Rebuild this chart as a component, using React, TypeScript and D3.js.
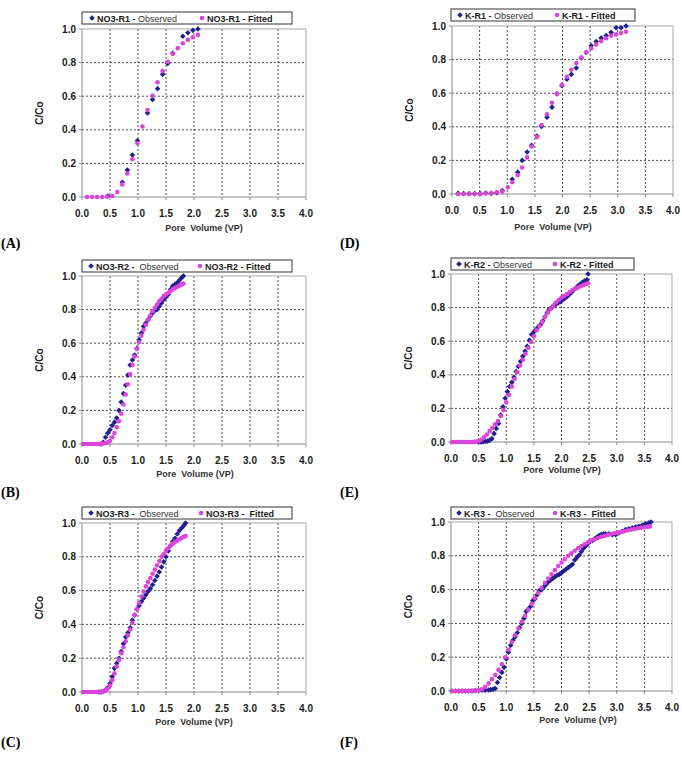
import React from 'react';
import * as d3 from 'd3';

type Pt = [number, number];

// axis ticks shared by all six panels
const xTicks = [0, 0.5, 1, 1.5, 2, 2.5, 3, 3.5, 4];
const yTicks = [0, 0.2, 0.4, 0.6, 0.8, 1.0];
const xTickLabels = ['0.0', '0.5', '1.0', '1.5', '2.0', '2.5', '3.0', '3.5', '4.0'];
const yTickLabels = ['0.0', '0.2', '0.4', '0.6', '0.8', '1.0'];

// NO3 column R1
const no3R1Observed: Pt[] = [
  [0.46, 0.006], [0.72, 0.088], [0.81, 0.16], [0.9, 0.25], [0.99, 0.335], [1.17, 0.5],
  [1.26, 0.58], [1.35, 0.645], [1.44, 0.73], [1.53, 0.795], [1.62, 0.855], [1.8, 0.957],
  [1.89, 0.978], [1.98, 0.992], [2.07, 1.0],
];
const no3R1Fitted: Pt[] = [
  [0.09, 0], [0.18, 0], [0.27, 0], [0.36, 0], [0.45, 0.002], [0.54, 0.006], [0.63, 0.03],
  [0.72, 0.075], [0.81, 0.14], [0.9, 0.225], [0.99, 0.32], [1.08, 0.42], [1.17, 0.518],
  [1.26, 0.602], [1.35, 0.683], [1.44, 0.75], [1.53, 0.805], [1.62, 0.853], [1.71, 0.886],
  [1.8, 0.915], [1.89, 0.935], [1.98, 0.951], [2.07, 0.965],
];

// NO3 column R2
const no3R2Observed: Pt[] = [
  [0.34, 0], [0.38, 0.01], [0.42, 0.04], [0.46, 0.065], [0.5, 0.085], [0.54, 0.11], [0.58, 0.13],
  [0.62, 0.155], [0.66, 0.2], [0.7, 0.25], [0.74, 0.3], [0.78, 0.35], [0.82, 0.41], [0.86, 0.47],
  [0.9, 0.5], [0.94, 0.53], [0.98, 0.57], [1.02, 0.62], [1.06, 0.66], [1.1, 0.7], [1.14, 0.72],
  [1.18, 0.74], [1.22, 0.76], [1.26, 0.78], [1.3, 0.795], [1.34, 0.8], [1.38, 0.82], [1.42, 0.84],
  [1.46, 0.86], [1.5, 0.875], [1.54, 0.89], [1.58, 0.92], [1.62, 0.94], [1.66, 0.95], [1.7, 0.96],
  [1.74, 0.975], [1.78, 0.99], [1.81, 1.0],
];
const no3R2Fitted: Pt[] = [
  [0.02, 0], [0.06, 0], [0.1, 0], [0.14, 0], [0.18, 0], [0.22, 0], [0.26, 0], [0.3, 0],
  [0.34, 0.001], [0.38, 0.003], [0.42, 0.006], [0.46, 0.01], [0.5, 0.018], [0.54, 0.04],
  [0.58, 0.065], [0.62, 0.1], [0.66, 0.135], [0.7, 0.18], [0.74, 0.235], [0.78, 0.295],
  [0.82, 0.355], [0.86, 0.415], [0.9, 0.47], [0.94, 0.52], [0.98, 0.565], [1.02, 0.605],
  [1.06, 0.645], [1.1, 0.68], [1.14, 0.71], [1.18, 0.74], [1.22, 0.765], [1.26, 0.79],
  [1.3, 0.81], [1.34, 0.83], [1.38, 0.85], [1.42, 0.865], [1.46, 0.88], [1.5, 0.89],
  [1.54, 0.9], [1.58, 0.91], [1.62, 0.92], [1.66, 0.928], [1.7, 0.936], [1.74, 0.943],
  [1.78, 0.95], [1.81, 0.955],
];

// NO3 column R3
const no3R3Observed: Pt[] = [
  [0.3, 0], [0.34, 0], [0.38, 0.003], [0.42, 0.01], [0.46, 0.025], [0.5, 0.05], [0.54, 0.09],
  [0.58, 0.14], [0.62, 0.17], [0.66, 0.2], [0.7, 0.24], [0.74, 0.285], [0.78, 0.325], [0.82, 0.35],
  [0.86, 0.38], [0.9, 0.425], [0.94, 0.455], [0.98, 0.49], [1.02, 0.51], [1.06, 0.535],
  [1.1, 0.555], [1.14, 0.575], [1.18, 0.595], [1.22, 0.612], [1.26, 0.635], [1.3, 0.66],
  [1.34, 0.685], [1.38, 0.71], [1.42, 0.74], [1.46, 0.77], [1.5, 0.8], [1.54, 0.835],
  [1.58, 0.865], [1.62, 0.89], [1.66, 0.91], [1.7, 0.935], [1.74, 0.955], [1.78, 0.97],
  [1.82, 0.985], [1.85, 1.0],
];
const no3R3Fitted: Pt[] = [
  [0.02, 0], [0.06, 0], [0.1, 0], [0.14, 0], [0.18, 0], [0.22, 0], [0.26, 0], [0.3, 0],
  [0.34, 0.001], [0.38, 0.003], [0.42, 0.008], [0.46, 0.02], [0.5, 0.04], [0.54, 0.07],
  [0.58, 0.11], [0.62, 0.15], [0.66, 0.19], [0.7, 0.23], [0.74, 0.265], [0.78, 0.3],
  [0.82, 0.335], [0.86, 0.37], [0.9, 0.41], [0.94, 0.455], [0.98, 0.49], [1.02, 0.525],
  [1.06, 0.565], [1.1, 0.595], [1.14, 0.625], [1.18, 0.65], [1.22, 0.675], [1.26, 0.7],
  [1.3, 0.725], [1.34, 0.75], [1.38, 0.775], [1.42, 0.8], [1.46, 0.815], [1.5, 0.835],
  [1.54, 0.85], [1.58, 0.865], [1.62, 0.877], [1.66, 0.887], [1.7, 0.896], [1.74, 0.904],
  [1.78, 0.912], [1.82, 0.918], [1.85, 0.923],
];

// K column R1
const kR1Observed: Pt[] = [
  [0.11, 0.004], [0.21, 0.002], [0.31, 0.002], [0.41, 0.002], [0.51, 0.002], [0.61, 0.006],
  [0.71, 0.004], [0.81, 0.008], [0.91, 0.02], [1.09, 0.088], [1.19, 0.13], [1.27, 0.2],
  [1.36, 0.25], [1.44, 0.29], [1.54, 0.345], [1.62, 0.402], [1.72, 0.457], [1.81, 0.517],
  [1.9, 0.597], [1.99, 0.645], [2.08, 0.683], [2.16, 0.712], [2.25, 0.75], [2.34, 0.81],
  [2.43, 0.842], [2.52, 0.882], [2.61, 0.908], [2.7, 0.928], [2.79, 0.943], [2.88, 0.962],
  [2.97, 0.99], [3.06, 0.99], [3.15, 1.0],
];
const kR1Fitted: Pt[] = [
  [0.11, 0], [0.21, 0], [0.31, 0], [0.41, 0], [0.51, 0], [0.61, 0.004], [0.71, 0.006],
  [0.81, 0.01], [0.91, 0.014], [1.01, 0.04], [1.09, 0.07], [1.19, 0.113], [1.27, 0.158],
  [1.36, 0.218], [1.44, 0.283], [1.54, 0.34], [1.62, 0.41], [1.72, 0.475], [1.81, 0.543],
  [1.9, 0.596], [1.99, 0.65], [2.08, 0.697], [2.16, 0.74], [2.25, 0.78], [2.34, 0.812],
  [2.43, 0.842], [2.52, 0.867], [2.61, 0.89], [2.7, 0.91], [2.79, 0.927], [2.88, 0.943],
  [2.97, 0.95], [3.06, 0.958], [3.15, 0.966],
];

// K column R2
const kR2Observed: Pt[] = [
  [0.5, 0], [0.54, 0], [0.58, 0.002], [0.62, 0.003], [0.66, 0.005], [0.7, 0.01], [0.74, 0.02],
  [0.78, 0.05], [0.82, 0.08], [0.86, 0.11], [0.9, 0.16], [0.94, 0.21], [0.98, 0.26], [1.02, 0.3],
  [1.06, 0.33], [1.1, 0.355], [1.14, 0.385], [1.18, 0.42], [1.22, 0.45], [1.26, 0.48],
  [1.3, 0.51], [1.34, 0.54], [1.38, 0.57], [1.42, 0.605], [1.46, 0.64], [1.5, 0.655],
  [1.54, 0.67], [1.58, 0.685], [1.62, 0.7], [1.66, 0.72], [1.7, 0.745], [1.74, 0.77],
  [1.78, 0.79], [1.82, 0.8], [1.86, 0.81], [1.9, 0.82], [1.94, 0.828], [1.98, 0.835],
  [2.02, 0.845], [2.06, 0.855], [2.1, 0.865], [2.14, 0.878], [2.18, 0.89], [2.22, 0.905],
  [2.26, 0.915], [2.3, 0.93], [2.34, 0.94], [2.38, 0.95], [2.42, 0.96], [2.46, 0.965],
  [2.48, 1.0],
];
const kR2Fitted: Pt[] = [
  [0.02, 0], [0.06, 0], [0.1, 0], [0.14, 0], [0.18, 0], [0.22, 0], [0.26, 0], [0.3, 0],
  [0.34, 0], [0.38, 0], [0.42, 0.001], [0.46, 0.003], [0.5, 0.005], [0.55, 0.015], [0.6, 0.03],
  [0.65, 0.045], [0.7, 0.065], [0.75, 0.085], [0.8, 0.105], [0.85, 0.125], [0.9, 0.155],
  [0.95, 0.19], [1.0, 0.235], [1.05, 0.28], [1.1, 0.33], [1.15, 0.375], [1.2, 0.415],
  [1.25, 0.455], [1.3, 0.49], [1.35, 0.525], [1.4, 0.56], [1.45, 0.595], [1.5, 0.63],
  [1.55, 0.665], [1.6, 0.69], [1.65, 0.715], [1.7, 0.745], [1.75, 0.77], [1.8, 0.79],
  [1.85, 0.81], [1.9, 0.83], [1.95, 0.845], [2.0, 0.86], [2.05, 0.87], [2.1, 0.88],
  [2.15, 0.893], [2.2, 0.905], [2.25, 0.913], [2.3, 0.92], [2.35, 0.928], [2.4, 0.935],
  [2.45, 0.94], [2.48, 0.945],
];

// K column R3
const kR3Observed: Pt[] = [
  [0.02, 0], [0.08, 0], [0.14, 0], [0.2, 0], [0.26, 0], [0.32, 0], [0.38, 0], [0.44, 0.002],
  [0.5, 0.003], [0.56, 0.004], [0.62, 0.004], [0.68, 0.006], [0.72, 0.008], [0.76, 0.01],
  [0.8, 0.015], [0.84, 0.05], [0.88, 0.08], [0.92, 0.11], [0.96, 0.14], [1.0, 0.19], [1.04, 0.23],
  [1.08, 0.27], [1.12, 0.3], [1.16, 0.32], [1.2, 0.345], [1.24, 0.375], [1.28, 0.4], [1.32, 0.43],
  [1.36, 0.47], [1.4, 0.485], [1.44, 0.5], [1.48, 0.535], [1.52, 0.545], [1.56, 0.57],
  [1.6, 0.595], [1.64, 0.6], [1.68, 0.615], [1.72, 0.63], [1.76, 0.645], [1.8, 0.655],
  [1.84, 0.665], [1.88, 0.675], [1.92, 0.685], [1.96, 0.69], [2.0, 0.7], [2.04, 0.71],
  [2.08, 0.72], [2.12, 0.73], [2.16, 0.74], [2.2, 0.75], [2.24, 0.775], [2.28, 0.79],
  [2.32, 0.805], [2.36, 0.825], [2.4, 0.845], [2.44, 0.86], [2.48, 0.875], [2.52, 0.885],
  [2.56, 0.89], [2.6, 0.9], [2.64, 0.91], [2.68, 0.92], [2.72, 0.925], [2.76, 0.93],
  [2.8, 0.93], [2.86, 0.93], [2.92, 0.925], [2.98, 0.925], [3.04, 0.935], [3.1, 0.945],
  [3.16, 0.955], [3.22, 0.96], [3.28, 0.965], [3.34, 0.97], [3.4, 0.975], [3.46, 0.98],
  [3.52, 0.99], [3.58, 0.995], [3.62, 1.0],
];
const kR3Fitted: Pt[] = [
  [0.02, 0], [0.08, 0], [0.14, 0], [0.2, 0], [0.26, 0], [0.32, 0], [0.38, 0.001], [0.44, 0.002],
  [0.5, 0.004], [0.56, 0.01], [0.62, 0.025], [0.68, 0.045], [0.74, 0.07], [0.8, 0.095],
  [0.86, 0.125], [0.92, 0.16], [0.98, 0.2], [1.04, 0.245], [1.1, 0.29], [1.16, 0.33],
  [1.22, 0.37], [1.28, 0.41], [1.34, 0.445], [1.4, 0.48], [1.46, 0.515], [1.52, 0.55],
  [1.58, 0.58], [1.64, 0.61], [1.7, 0.64], [1.76, 0.665], [1.82, 0.69], [1.88, 0.715],
  [1.94, 0.74], [2.0, 0.76], [2.06, 0.78], [2.12, 0.8], [2.18, 0.815], [2.24, 0.83],
  [2.3, 0.845], [2.36, 0.858], [2.42, 0.87], [2.48, 0.88], [2.54, 0.89], [2.6, 0.898],
  [2.66, 0.905], [2.72, 0.912], [2.78, 0.918], [2.84, 0.924], [2.9, 0.929], [2.96, 0.933],
  [3.02, 0.937], [3.08, 0.942], [3.14, 0.946], [3.2, 0.951], [3.26, 0.955], [3.32, 0.959],
  [3.38, 0.963], [3.44, 0.966], [3.5, 0.969], [3.56, 0.972], [3.6, 0.974],
];

const NAVY = '#1f1f8f';
const MAGENTA = '#dc44dc';
const FONT = 'Arial, "Liberation Sans", Helvetica, sans-serif';

interface PanelSpec {
  tag: string;
  obsName: string;
  fitName: string;
  observed: Pt[];
  fitted: Pt[];
  left: number; right: number; top: number; bottom: number;
  legendX: number; legendW: number; legendY: number;
  obsMarkX: number; fitMarkX: number;
  titleX: number; titleY: number;
  tagX: number; tagY: number;
}

const panels: PanelSpec[] = [
  { tag: '(A)', obsName: 'NO3-R1 - Observed', fitName: 'NO3-R1 - Fitted', observed: no3R1Observed, fitted: no3R1Fitted,
    left: 82, right: 306, top: 29, bottom: 197, legendX: 82, legendW: 210, legendY: 12,
    obsMarkX: 92, fitMarkX: 202, titleX: 204, titleY: 231, tagX: 1, tagY: 248 },
  { tag: '(B)', obsName: 'NO3-R2 -  Observed', fitName: 'NO3-R2 - Fitted', observed: no3R2Observed, fitted: no3R2Fitted,
    left: 82, right: 306, top: 276, bottom: 444, legendX: 82, legendW: 210, legendY: 260,
    obsMarkX: 91, fitMarkX: 200, titleX: 195, titleY: 477, tagX: 1, tagY: 497 },
  { tag: '(C)', obsName: 'NO3-R3 -  Observed', fitName: 'NO3-R3 -  Fitted', observed: no3R3Observed, fitted: no3R3Fitted,
    left: 82, right: 306, top: 523, bottom: 692, legendX: 82, legendW: 210, legendY: 507,
    obsMarkX: 91, fitMarkX: 201, titleX: 194, titleY: 725, tagX: 1, tagY: 747 },
  { tag: '(D)', obsName: 'K-R1 - Observed', fitName: 'K-R1 - Fitted', observed: kR1Observed, fitted: kR1Fitted,
    left: 452, right: 673, top: 26, bottom: 194, legendX: 451, legendW: 184, legendY: 9,
    obsMarkX: 460, fitMarkX: 557, titleX: 553, titleY: 230, tagX: 340, tagY: 248 },
  { tag: '(E)', obsName: 'K-R2 - Observed', fitName: 'K-R2 - Fitted', observed: kR2Observed, fitted: kR2Fitted,
    left: 451, right: 672, top: 274, bottom: 442, legendX: 451, legendW: 183, legendY: 258,
    obsMarkX: 459, fitMarkX: 555, titleX: 562, titleY: 473, tagX: 340, tagY: 497 },
  { tag: '(F)', obsName: 'K-R3 -  Observed', fitName: 'K-R3 -  Fitted', observed: kR3Observed, fitted: kR3Fitted,
    left: 451, right: 672, top: 522, bottom: 691, legendX: 451, legendW: 183, legendY: 507,
    obsMarkX: 459, fitMarkX: 555, titleX: 578, titleY: 723, tagX: 340, tagY: 747 },
];

// square diamond marker, like the spreadsheet's default
const DIAMOND_R = 2.8;
const diamond = `M0,${-DIAMOND_R}L${DIAMOND_R},0L0,${DIAMOND_R}L${-DIAMOND_R},0Z`;
const DOT_R = 2.3;

const Panel: React.FC<{ p: PanelSpec }> = ({ p }) => {
  const x = d3.scaleLinear().domain([0, 4]).range([p.left, p.right]);
  const y = d3.scaleLinear().domain([0, 1]).range([p.bottom, p.top]);
  const midY = (p.top + p.bottom) / 2;
  const legendH = 12;
  const legendBase = p.legendY + 9.5;
  const [obsLabel, obsRest] = p.obsName.split(' -');

  return (
    <g>
      {/* gridlines */}
      {xTicks.slice(1, -1).map(t => (
        <line key={`gx${t}`} x1={x(t)} x2={x(t)} y1={p.top} y2={p.bottom}
          stroke="#222" strokeWidth={0.8} strokeDasharray="2,2" />
      ))}
      {yTicks.slice(1, -1).map(t => (
        <line key={`gy${t}`} x1={p.left} x2={p.right} y1={y(t)} y2={y(t)}
          stroke="#222" strokeWidth={0.8} strokeDasharray="2,2" />
      ))}
      {/* plot frame */}
      <line x1={p.left} x2={p.right} y1={p.top} y2={p.top} stroke="#a8a8a8" strokeWidth={1} />
      <line x1={p.right} x2={p.right} y1={p.top} y2={p.bottom} stroke="#a8a8a8" strokeWidth={1} />
      <line x1={p.left} x2={p.left} y1={p.top} y2={p.bottom} stroke="#8a8a8a" strokeWidth={1} />
      <line x1={p.left} x2={p.right} y1={p.bottom} y2={p.bottom} stroke="#8a8a8a" strokeWidth={1} />

      {/* y axis */}
      {yTicks.map((t, i) => (
        <g key={`yt${t}`}>
          <line x1={p.left - 3} x2={p.left} y1={y(t)} y2={y(t)} stroke="#8a8a8a" />
          <text x={p.left - 6} y={y(t) + 3.6} textAnchor="end" fontSize={10} fontWeight="bold"
            fontFamily={FONT} fill="#1a1a1a">{yTickLabels[i]}</text>
        </g>
      ))}
      {/* x axis */}
      {xTicks.map((t, i) => (
        <g key={`xt${t}`}>
          <line x1={x(t)} x2={x(t)} y1={p.bottom} y2={p.bottom + 3} stroke="#8a8a8a" />
          <text x={x(t)} y={p.bottom + 19.5} textAnchor="middle" fontSize={10} fontWeight="bold"
            fontFamily={FONT} fill="#1a1a1a">{xTickLabels[i]}</text>
        </g>
      ))}

      <text x={p.titleX} y={p.titleY} textAnchor="middle" fontSize={9} fontWeight="bold"
        fontFamily={FONT} fill="#333" style={{ whiteSpace: 'pre' }}>{'Pore  Volume (VP)'}</text>
      <text transform={`translate(${p.left - 39},${midY}) rotate(-90)`} textAnchor="middle"
        fontSize={10} fontWeight="bold" fontFamily={FONT} fill="#1a1a1a">C/Co</text>

      {/* series: observed first, fitted drawn on top */}
      {p.observed.map((d, i) => (
        <path key={`o${i}`} d={diamond} transform={`translate(${x(d[0])},${y(d[1])})`} fill={NAVY} />
      ))}
      {p.fitted.map((d, i) => (
        <circle key={`f${i}`} cx={x(d[0])} cy={y(d[1])} r={DOT_R} fill={MAGENTA} />
      ))}

      {/* legend */}
      <rect x={p.legendX} y={p.legendY} width={p.legendW} height={legendH} fill="#fff"
        stroke="#333" strokeWidth={1} />
      <path d={diamond} transform={`translate(${p.obsMarkX},${p.legendY + legendH / 2})`} fill={NAVY} />
      <text x={p.obsMarkX + 5} y={legendBase} fontSize={9} fontFamily={FONT} fill="#1a1a1a"
        style={{ whiteSpace: 'pre' }}>
        <tspan fontWeight="bold">{obsLabel + ' -' + obsRest.replace('Observed', '')}</tspan>
        <tspan fill="#333">Observed</tspan>
      </text>
      <circle cx={p.fitMarkX} cy={p.legendY + legendH / 2} r={DOT_R} fill={MAGENTA} />
      <text x={p.fitMarkX + 5} y={legendBase} fontSize={9} fontWeight="bold" fontFamily={FONT}
        fill="#1a1a1a" style={{ whiteSpace: 'pre' }}>{p.fitName}</text>

      <text x={p.tagX} y={p.tagY} fontSize={14} fontWeight="bold"
        fontFamily='"Liberation Serif", "Times New Roman", serif' fill="#000">{p.tag}</text>
    </g>
  );
};

export default function App() {
  return (
    <div style={{ position: 'absolute', left: 0, top: 0, background: '#fff' }}>
      <svg width={682} height={757} viewBox="0 0 682 757" style={{ display: 'block' }}>
        <rect width={682} height={757} fill="#fff" />
        {panels.map(p => <Panel key={p.tag} p={p} />)}
      </svg>
    </div>
  );
}
